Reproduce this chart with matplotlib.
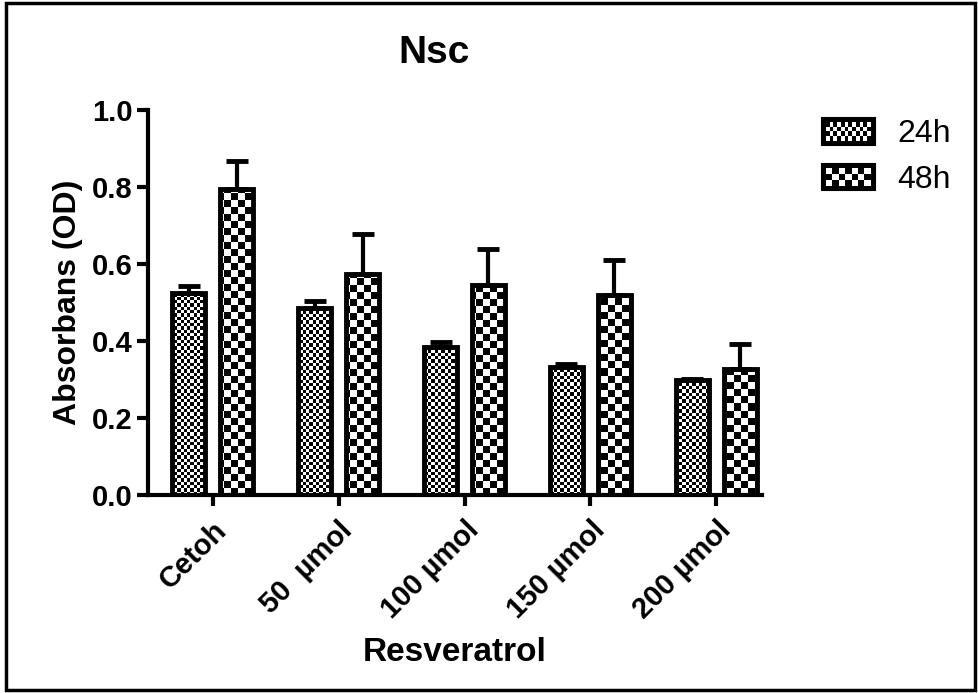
import numpy as np
import matplotlib
matplotlib.use('Agg')
import matplotlib.pyplot as plt
from matplotlib.patches import Rectangle
from matplotlib.legend_handler import HandlerBase

# data
categories = ['Cetoh', '50  µmol', '100 µmol', '150 µmol', '200 µmol']
series_names = ['24h', '48h']
vals_24h = [0.525, 0.485, 0.385, 0.333, 0.298]
err_24h = [0.018, 0.018, 0.012, 0.008, 0.004]
vals_48h = [0.795, 0.573, 0.545, 0.520, 0.328]
err_48h = [0.072, 0.105, 0.095, 0.090, 0.065]
yticks = [0.0, 0.2, 0.4, 0.6, 0.8, 1.0]

plt.rcParams['font.family'] = ['Liberation Sans', 'DejaVu Sans']


def checker(n_rows, n_cols):
    return (np.indices((n_rows, n_cols)).sum(axis=0) % 2).astype(float)


class CheckerHandler(HandlerBase):
    # legend key filled with a checkerboard made of small rectangles
    def __init__(self, n_cols, n_rows):
        super().__init__()
        self.n_cols = n_cols
        self.n_rows = n_rows

    def create_artists(self, legend, orig_handle, xdescent, ydescent,
                       width, height, fontsize, trans):
        x0, y0 = -xdescent, -ydescent
        arts = [Rectangle((x0, y0), width, height, facecolor='black',
                          edgecolor='black', lw=1.5, transform=trans)]
        pad = height * 0.15
        cw = (width - 2 * pad) / self.n_cols
        ch = (height - 2 * pad) / self.n_rows
        for i in range(self.n_rows):
            for j in range(self.n_cols):
                if (i + j) % 2 == 0:
                    arts.append(Rectangle((x0 + pad + j * cw, y0 + pad + i * ch), cw, ch,
                                          facecolor='white', edgecolor='none',
                                          transform=trans))
        return arts


fig = plt.figure(figsize=(9.79, 6.93), dpi=100)
ax = fig.add_axes([0.151, 0.2857, 0.627, 0.5556])

x = np.arange(len(categories))
off = 0.19
w = 0.26

bars24 = ax.bar(x - off, vals_24h, w, facecolor='none', edgecolor='black',
                linewidth=3.5, zorder=3)
bars48 = ax.bar(x + off, vals_48h, w, facecolor='none', edgecolor='black',
                linewidth=3.5, zorder=3)

ax.errorbar(x - off, vals_24h, yerr=[np.zeros(len(err_24h)), err_24h], fmt='none',
            ecolor='black', elinewidth=3, capsize=8, capthick=3.5, zorder=2.8)
ax.errorbar(x + off, vals_48h, yerr=[np.zeros(len(err_48h)), err_48h], fmt='none',
            ecolor='black', elinewidth=3, capsize=8, capthick=3.5, zorder=2.8)

# checker fills, clipped to each bar
small = checker(117, 186)
big = checker(55, 88)
for bars, pat in ((bars24, small), (bars48, big)):
    for b in bars:
        im = ax.imshow(pat, cmap='gray', vmin=0, vmax=1, extent=(0, 1, 0, 1),
                       transform=ax.transAxes, interpolation='nearest',
                       aspect='auto', zorder=2)
        im.set_clip_path(b)

ax.set_xlim(-0.515, 4.36)
ax.set_ylim(0, 1.0)

ax.spines['top'].set_visible(False)
ax.spines['right'].set_visible(False)
ax.spines['left'].set_linewidth(3)
ax.spines['bottom'].set_linewidth(3)
ax.tick_params(direction='out', length=8, width=3, labelsize=21, pad=3)
ax.tick_params(axis='x', pad=7)

ax.set_yticks(yticks)
ax.set_yticklabels([f'{v:.1f}' for v in yticks], fontweight='bold')
ax.set_xticks(x)
ax.set_xticklabels(categories, rotation=45, ha='right', va='top',
                   rotation_mode='anchor', fontweight='bold')

ax.set_ylabel('Absorbans (OD)', fontsize=23, fontweight='bold')
ax.yaxis.set_label_coords(-0.105, 0.5)
ax.set_xlabel('Resveratrol', fontsize=24, fontweight='bold')
ax.xaxis.set_label_coords(0.5, -0.37)

fig.text(434 / 979, 1 - 53 / 693, 'Nsc', ha='center', va='center',
         fontsize=28, fontweight='bold')

h24 = Rectangle((0, 0), 1, 1)
h48 = Rectangle((0, 0), 1, 1)
fig.legend([h24, h48], series_names, loc='upper left',
           bbox_to_anchor=(822 / 979, 1 - 118 / 693), frameon=False,
           fontsize=23, handlelength=1.65, handleheight=0.9,
           labelspacing=0.45, handletextpad=0.7, borderpad=0, borderaxespad=0,
           handler_map={h24: CheckerHandler(12, 4), h48: CheckerHandler(7, 3)})

# outer frame round the whole picture
fig.patches.append(Rectangle((0.006, 0.004), 0.99, 0.991, transform=fig.transFigure,
                             fill=False, lw=2.5, edgecolor='black'))

fig.savefig('out.png', dpi=100)
